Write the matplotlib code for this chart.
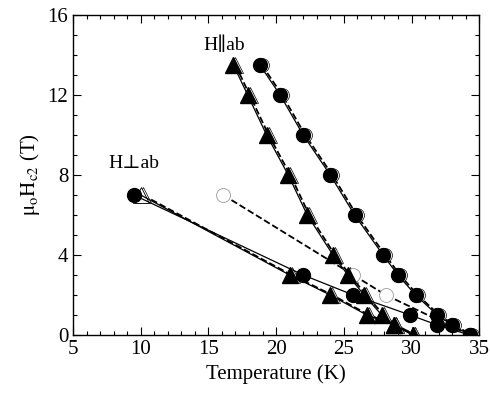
import matplotlib
matplotlib.use("Agg")
import matplotlib.pyplot as plt
from matplotlib.ticker import MultipleLocator

plt.rcParams['font.family'] = ['Liberation Serif', 'DejaVu Serif']
plt.rcParams['mathtext.fontset'] = 'stix'

# H || ab, circles
par_circ_T = [18.8, 20.3, 22.0, 24.0, 25.8, 27.9, 29.0, 30.3, 31.9, 33.0, 34.3]
par_circ_H = [13.5, 12.0, 10.0, 8.0, 6.0, 4.0, 3.0, 2.0, 1.0, 0.5, 0.0]
# H || ab, triangles
par_tri_T = [16.85, 17.9, 19.3, 20.9, 22.3, 24.2, 25.3, 26.5, 27.8, 28.7, 30.1]
par_tri_H = [13.5, 12.0, 10.0, 8.0, 6.0, 4.0, 3.0, 2.0, 1.0, 0.5, 0.0]
# H perp ab, circles
perp_circ_T = [9.5, 22.0, 25.7, 29.9, 31.9, 34.3]
perp_circ_H = [7.0, 3.0, 2.0, 1.0, 0.5, 0.0]
# H perp ab, open circles (dashed)
perp_open_T = [16.1, 25.7, 28.1, 34.3]
perp_open_H = [7.0, 3.0, 2.0, 0.0]
# H perp ab, triangles
perp_tri_T = [10.0, 21.0, 24.0, 26.7, 28.7, 30.1]
perp_tri_H = [7.0, 3.0, 2.0, 1.0, 0.5, 0.0]

shift = 0.15

fig = plt.figure(figsize=(4.9, 3.96), dpi=100)
ax = fig.add_axes([0.149, 0.154, 0.829, 0.808])

def open_series(T, H, marker, ms):
    ax.plot([t + shift for t in T], H, '--', color='black', lw=1.3,
            marker=marker, ms=ms, mfc='white', mec='black', mew=0.5, zorder=2)

def filled_series(T, H, marker, ms):
    ax.plot(T, H, '-', color='black', lw=0.9,
            marker=marker, ms=ms, mfc='black', mec='black', zorder=3)

open_series(par_circ_T, par_circ_H, 'o', 10)
open_series(par_tri_T, par_tri_H, '^', 11)
open_series(perp_tri_T, perp_tri_H, '^', 11)
ax.plot(perp_open_T, perp_open_H, '--', color='black', lw=1.3,
        marker='o', ms=10, mfc='white', mec='#999999', mew=0.6, zorder=2)

filled_series(par_circ_T, par_circ_H, 'o', 10)
filled_series(par_tri_T, par_tri_H, '^', 11)
filled_series(perp_circ_T, perp_circ_H, 'o', 10)
ax.plot(perp_tri_T, perp_tri_H, '-', color='black', lw=0.9, zorder=3)
ax.plot(perp_tri_T[1:], perp_tri_H[1:], '^', ms=11, color='black', zorder=3)
ax.plot(perp_tri_T[:1], perp_tri_H[:1], '^', ms=11, mfc='white', mec='black', mew=0.6, zorder=2)

ax.text(16.2, 14.5, 'H\u2225ab', fontsize=14, ha='center', va='center')
ax.text(9.5, 8.6, 'H\u22a5ab', fontsize=14, ha='center', va='center')

ax.set_xlim(5, 35)
ax.set_ylim(0, 16)
ax.xaxis.set_major_locator(MultipleLocator(5))
ax.xaxis.set_minor_locator(MultipleLocator(1))
ax.yaxis.set_major_locator(MultipleLocator(4))
ax.yaxis.set_minor_locator(MultipleLocator(1))
ax.tick_params(which='both', direction='in', top=True, right=True, labelsize=15, width=0.8)
ax.tick_params(which='major', length=6)
ax.tick_params(which='minor', length=3)
for s in ax.spines.values():
    s.set_linewidth(1.0)

ax.set_xlabel('Temperature (K)', fontsize=15)
ax.set_ylabel(r'$\mathrm{\mu_o H_{c2}}$ (T)', fontsize=15)

fig.savefig('out.png', dpi=100)
